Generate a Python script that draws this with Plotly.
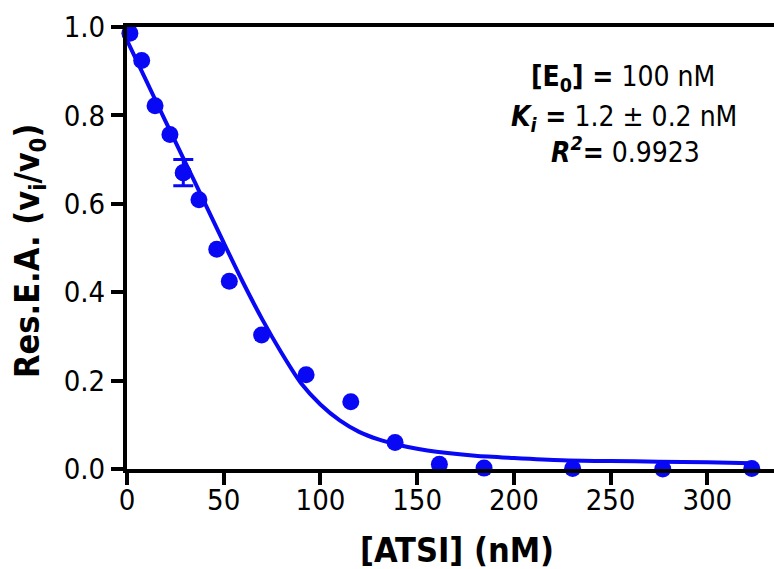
import plotly.graph_objects as go

# Measured data points
conc = [1.5, 7.6, 14.5, 22.2, 29.1, 37.2, 46.4, 52.9, 69.6, 92.6, 115.7, 138.6, 161.5, 184.6, 230.4, 277.0, 323.0]
activity = [0.986, 0.924, 0.822, 0.757, 0.670, 0.609, 0.497, 0.425, 0.303, 0.213, 0.152, 0.060, 0.011, 0.002, 0.001, 0.0, 0.001]
err_plus = [0, 0, 0, 0, 0.030, 0, 0, 0, 0, 0, 0, 0, 0, 0, 0, 0, 0]
err_minus = [0, 0, 0, 0, 0.029, 0, 0, 0, 0, 0, 0, 0, 0, 0, 0, 0, 0]

# Fitted curve
fit_x = [0, 10, 20, 30, 40, 50, 60, 70, 80, 90, 100, 110, 120, 130, 140, 150, 160, 180, 200, 225, 250, 275, 300, 323]
fit_y = [0.970, 0.878, 0.786, 0.695, 0.604, 0.512, 0.422, 0.338, 0.262, 0.194, 0.146, 0.110, 0.084, 0.067, 0.055,
         0.046, 0.039, 0.030, 0.025, 0.020, 0.018, 0.0166, 0.015, 0.013]

x_ticks = [0, 50, 100, 150, 200, 250, 300]
y_ticks = [0.0, 0.2, 0.4, 0.6, 0.8, 1.0]

FONT = "DejaVu Sans Condensed, DejaVu Sans, sans-serif"
BLUE = "#0808F5"

idx = [i for i in range(len(conc)) if err_plus[i] or err_minus[i]]

fig = go.Figure()
fig.add_trace(go.Scatter(x=fit_x, y=fit_y, mode="lines",
                         line=dict(color=BLUE, width=4, shape="spline", smoothing=0.8),
                         cliponaxis=False, showlegend=False))
fig.add_trace(go.Scatter(x=[conc[i] for i in idx], y=[activity[i] for i in idx], mode="markers",
                         marker=dict(color=BLUE, size=17),
                         error_y=dict(type="data", symmetric=False,
                                      array=[err_plus[i] for i in idx],
                                      arrayminus=[err_minus[i] for i in idx],
                                      color=BLUE, thickness=3, width=10),
                         cliponaxis=False, showlegend=False))
fig.add_trace(go.Scatter(x=conc, y=activity, mode="markers",
                         marker=dict(color=BLUE, size=17),
                         cliponaxis=False, showlegend=False))

L, T, W, H = 127, 27, 647, 442

fig.update_layout(
    width=774, height=569,
    margin=dict(l=L, r=0, t=T, b=569 - T - H),
    paper_bgcolor="white", plot_bgcolor="white",
    font=dict(family=FONT, color="black", size=29),
    xaxis=dict(range=[0, 334.5], tickvals=x_ticks, ticktext=[str(v) for v in x_ticks],
               showline=True, linecolor="black", linewidth=4, mirror=True,
               ticks="outside", ticklen=12, tickwidth=4, tickcolor="black",
               ticklabelstandoff=-10,
               showgrid=False, zeroline=False, tickfont=dict(size=29, family=FONT)),
    yaxis=dict(range=[0, 1.0], tickvals=y_ticks, ticktext=["%.1f" % v for v in y_ticks],
               showline=True, linecolor="black", linewidth=4,
               ticks="outside", ticklen=12, tickwidth=4, tickcolor="black",
               showgrid=False, zeroline=False, tickfont=dict(size=29, family=FONT)),
)

def px_x(px):
    return (px - L) / W

def px_y(py):
    return (T + H - py) / H

ann = [
    ("<b>[E<sub>0</sub>] =</b> 100 nM", 623, 78),
    ("<b><i>K<sub>i</sub></i> =</b> 1.2 ± 0.2 nM", 624, 118),
    ("<b><i>R<sup>2</sup></i>=</b> 0.9923", 625, 150),
]
for txt, ax_, ay_ in ann:
    fig.add_annotation(text=txt, x=px_x(ax_), y=px_y(ay_), xref="paper", yref="paper",
                       showarrow=False, xanchor="center", yanchor="middle",
                       font=dict(size=28, family=FONT, color="black"))

fig.add_annotation(text="<b>Res.E.A. (v<sub>i</sub>/v<sub>0</sub>)</b>", textangle=-90,
                   x=px_x(29), y=px_y(251), xref="paper", yref="paper", showarrow=False,
                   xanchor="center", yanchor="middle", font=dict(size=34, family=FONT, color="black"))
fig.add_annotation(text="<b>[ATSI] (nM)</b>",
                   x=px_x(457), y=px_y(550), xref="paper", yref="paper", showarrow=False,
                   xanchor="center", yanchor="middle", font=dict(size=34, family=FONT, color="black"))

fig.write_html("out.html", config={"displayModeBar": False},
               post_script="document.body.style.margin='0px';")
